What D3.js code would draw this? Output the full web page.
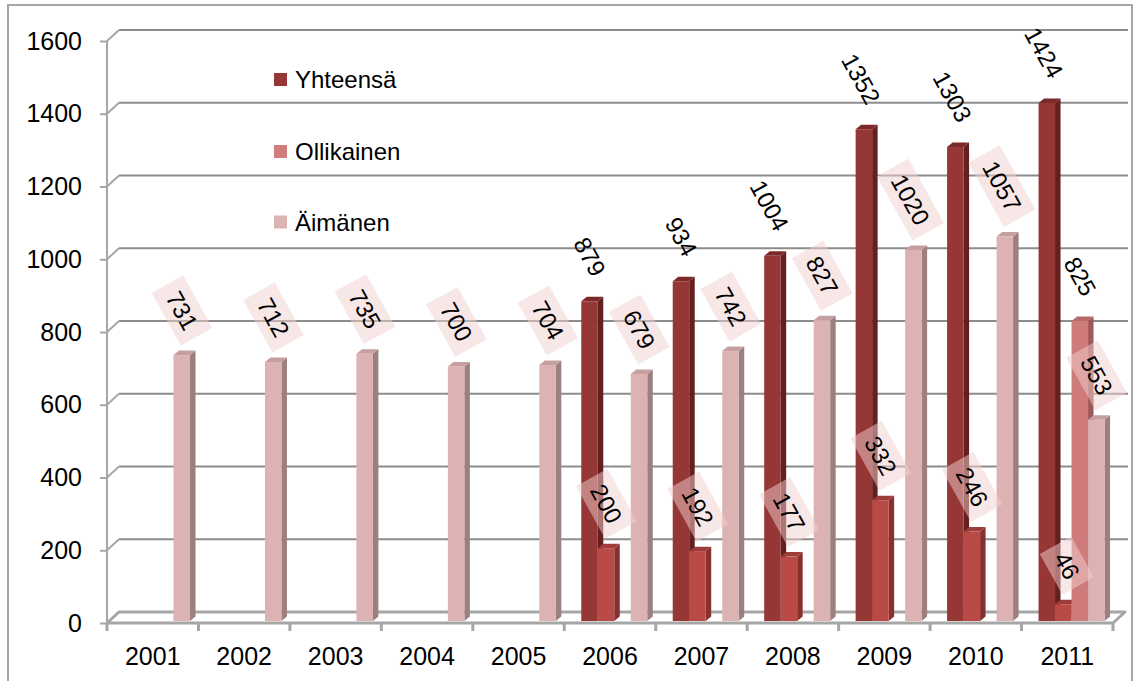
<!DOCTYPE html>
<html>
<head>
<meta charset="utf-8">
<script src="https://cdn.jsdelivr.net/npm/d3@7"></script>
<style>
  body { margin: 0; background: #fff; }
  svg { display: block; font-family: "Liberation Sans", Arial, sans-serif; }
</style>
</head>
<body>
<svg class="chart-svg"></svg>
<script>
const years = ["2001", "2002", "2003", "2004", "2005", "2006", "2007", "2008", "2009", "2010", "2011"];
const seriesNames = ["Yhteensä", "Ollikainen (1)", "Ollikainen", "Äimänen"];
const yhteensa   = [null, null, null, null, null, 879, 934, 1004, 1352, 1303, 1424];
const ollikainen1 = [null, null, null, null, null, 200, 192, 177, 332, 246, 46];
const ollikainen = [null, null, null, null, null, null, null, null, null, null, 825];
const aimanen    = [731, 712, 735, 700, 704, 679, 742, 827, 1020, 1057, 553];
const yTicks = [0, 200, 400, 600, 800, 1000, 1200, 1400, 1600];
const legendNames = ["Yhteensä", "Ollikainen", "Äimänen"];

const seriesValues = [yhteensa, ollikainen1, ollikainen, aimanen];
const faces = [
  { front: "#953735", side: "#64201f", top: "#7b2a29", boxed: false },
  { front: "#b94a46", side: "#88302e", top: "#9e3c3a", boxed: true },
  { front: "#cf7b7b", side: "#a05858", top: "#b56a6a", boxed: false },
  { front: "#dcb2b2", side: "#9c7f7f", top: "#c6a0a0", boxed: true }
];
const legendColors = ["#953735", "#d07d7d", "#dcb3b3"];

const W = 1143, H = 681;
const depth = [12, -11];       // front edge to back wall
const barOff = [5, -2];        // bar front face from front edge
const barDepth = [5.5, -4.5];

const svg = d3.select(".chart-svg").attr("width", W).attr("height", H);
svg.append("rect").attr("width", W).attr("height", H).attr("fill", "#fff");
svg.append("rect").attr("x", 8).attr("y", 5).attr("width", 1124).attr("height", 720)
  .attr("fill", "none").attr("stroke", "#a6a6a6").attr("stroke-width", 2);

const x = d3.scaleBand().domain(years).range([107, 1113]);
const xs = d3.scaleBand().domain(seriesNames).range([17, 83]);
const y = d3.scaleLinear().domain([0, 1600]).range([623, 41]);

// back wall gridlines + left wall diagonals
const grid = svg.append("g").attr("fill", "none").attr("stroke", "#8c8c8c").attr("stroke-width", 2);
yTicks.forEach(t => {
  if (t > 0) {
    grid.append("line")
      .attr("x1", 107 + depth[0]).attr("x2", 1128)
      .attr("y1", y(t) + depth[1]).attr("y2", y(t) + depth[1]);
  }
  grid.append("path")
    .attr("stroke", "#a6a6a6")
    .attr("d", `M107,${y(t)}L${107 + depth[0]},${y(t) + depth[1]}`);
});

// floor
svg.append("path")
  .attr("fill", "none").attr("stroke", "#a6a6a6").attr("stroke-width", 3)
  .attr("stroke-linejoin", "round")
  .attr("d", `M${107 + depth[0]},${y(0) + depth[1]}L${1113 + depth[0]},${y(0) + depth[1]}L1113,${y(0)}L107,${y(0)}Z`);

// y axis
const yAxis = svg.append("g").attr("transform", "translate(107,0)")
  .call(d3.axisLeft(y).tickValues(yTicks).tickSize(7).tickPadding(18).tickFormat(d3.format("d")));
yAxis.select(".domain").attr("stroke", "#a6a6a6").attr("stroke-width", 2).attr("d", `M0,${y(1600)}V${y(0)}`);
yAxis.selectAll(".tick line").attr("stroke", "#a6a6a6").attr("stroke-width", 2);
yAxis.selectAll(".tick text").attr("font-size", 25).attr("font-family", "Liberation Sans, Arial").attr("fill", "#000");

// x axis
const xAxis = svg.append("g").attr("transform", `translate(0,${y(0)})`)
  .call(d3.axisBottom(x).tickSize(0).tickPadding(24));
xAxis.select(".domain").remove();
xAxis.selectAll(".tick text").attr("font-size", 25).attr("font-family", "Liberation Sans, Arial").attr("fill", "#000");
const bounds = years.map(d => x(d)).concat([x(years[years.length - 1]) + x.bandwidth()]);
svg.append("g").selectAll("line").data(bounds).join("line")
  .attr("x1", d => d).attr("x2", d => d).attr("y1", y(0)).attr("y2", y(0) + 8)
  .attr("stroke", "#a6a6a6").attr("stroke-width", 3);

// bars
const bars = [];
years.forEach((yr, i) => {
  seriesNames.forEach((s, j) => {
    const v = seriesValues[j][i];
    if (v == null) return;
    bars.push({ yr, s, j, v });
  });
});

const barG = svg.append("g");
bars.forEach(b => {
  const x0 = x(b.yr) + xs(b.s);
  const x1 = x0 + xs.bandwidth();
  const yb = y(0) + barOff[1];
  const yt = y(b.v) + barOff[1];
  const dx = barDepth[0], dy = barDepth[1];
  const f = faces[b.j];
  const g = barG.append("g");
  g.append("path").attr("fill", f.side)
    .attr("d", `M${x1},${yb}L${x1 + dx},${yb + dy}L${x1 + dx},${yt + dy}L${x1},${yt}Z`);
  g.append("path").attr("fill", f.top)
    .attr("d", `M${x0},${yt}L${x0 + dx},${yt + dy}L${x1 + dx},${yt + dy}L${x1},${yt}Z`);
  g.append("rect").attr("fill", f.front)
    .attr("x", x0).attr("y", yt).attr("width", x1 - x0).attr("height", yb - yt);
});

// value labels
const labG = svg.append("g");
bars.forEach(b => {
  const cx = x(b.yr) + xs(b.s) + xs.bandwidth() / 2;
  const g = labG.append("g");
  const t = g.append("text")
    .attr("text-anchor", "end").attr("dominant-baseline", "central")
    .attr("font-size", 24).attr("fill", "#000").text(b.v);
  const L = t.node().getComputedTextLength();
  const px = cx + 10;
  const py = y(b.v) - 29;
  g.attr("transform", `translate(${px},${py}) rotate(61)`);
  if (faces[b.j].boxed) {
    g.insert("rect", "text")
      .attr("x", -L - 10).attr("y", -18).attr("width", L + 20).attr("height", 36)
      .attr("fill", "#f2d0d0").attr("fill-opacity", 0.5);
  }
});

// legend
const leg = svg.append("g");
const legY = [79.5, 151.5, 222];
legendNames.forEach((n, i) => {
  leg.append("rect").attr("x", 274).attr("y", legY[i] - 6.5).attr("width", 13).attr("height", 13)
    .attr("fill", legendColors[i]);
  leg.append("text").attr("x", 295).attr("y", legY[i]).attr("dominant-baseline", "central")
    .attr("font-size", 24).attr("fill", "#000").text(n);
});
</script>
</body>
</html>
